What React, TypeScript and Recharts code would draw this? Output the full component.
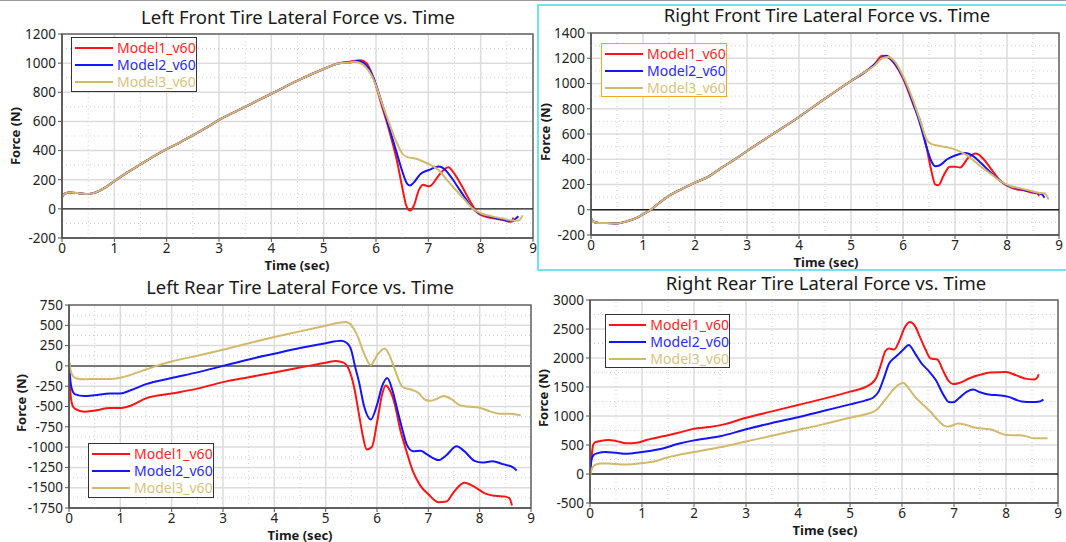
import React from "react";
import {
  LineChart,
  Line,
  XAxis,
  YAxis,
  CartesianGrid,
  ReferenceLine,
  ReferenceArea,
} from "recharts";

// ---- data (time in sec, force in N) ----
const timeTicks = [0, 1, 2, 3, 4, 5, 6, 7, 8, 9];

// Left front: all three models overlap until ~5.3 s
const lfBaseTime = [0, 0.05, 0.15, 0.3, 0.45, 0.6, 0.8, 1.0, 1.25, 1.5, 1.75, 2, 2.25, 2.5, 2.75, 3, 3.5, 4, 4.5, 5, 5.3];
const lfBaseForce = [80, 105, 112, 108, 102, 108, 140, 190, 250, 305, 360, 410, 455, 505, 555, 610, 700, 790, 880, 960, 1000];
const lfTime1 = [5.5, 5.7, 5.82, 5.95, 6.1, 6.25, 6.4, 6.5, 6.58, 6.65, 6.72, 6.82, 6.9, 7.0, 7.05, 7.2, 7.38, 7.5, 7.65, 7.8, 7.95, 8.1, 8.3, 8.45, 8.55, 8.6, 8.62];
const lfForce1 = [1010, 1020, 1000, 900, 720, 540, 330, 150, 20, -12, 20, 130, 165, 155, 160, 230, 285, 240, 150, 50, -30, -55, -68, -78, -88, -85, -60];
const lfTime2 = [5.5, 5.65, 5.8, 5.95, 6.1, 6.25, 6.4, 6.5, 6.6, 6.65, 6.72, 6.85, 7.0, 7.2, 7.3, 7.45, 7.6, 7.75, 7.9, 8.1, 8.3, 8.5, 8.62, 8.66, 8.72];
const lfForce2 = [1005, 1015, 990, 900, 740, 560, 380, 260, 170, 160, 180, 240, 265, 290, 275, 210, 130, 50, -15, -45, -65, -80, -85, -70, -50];
const lfTime3 = [5.5, 5.6, 5.75, 5.95, 6.1, 6.25, 6.4, 6.5, 6.6, 6.75, 6.9, 7.05, 7.2, 7.35, 7.5, 7.7, 7.85, 8.0, 8.2, 8.4, 8.6, 8.7, 8.75, 8.8];
const lfForce3 = [1005, 1010, 990, 890, 740, 590, 450, 380, 355, 345, 325, 300, 265, 200, 140, 60, 0, -30, -50, -65, -80, -82, -75, -45];

// Right front
const rfBaseTime = [0, 0.05, 0.15, 0.3, 0.5, 0.7, 0.9, 1.0, 1.15, 1.3, 1.5, 1.75, 2, 2.25, 2.5, 2.75, 3, 3.5, 4, 4.5, 5, 5.3];
const rfBaseForce = [-70, -95, -105, -105, -108, -90, -60, -35, 0, 50, 110, 165, 215, 260, 330, 395, 465, 600, 735, 880, 1020, 1100];
const rfTime1 = [5.45, 5.6, 5.7, 5.85, 6.0, 6.1, 6.2, 6.35, 6.45, 6.55, 6.62, 6.68, 6.78, 6.9, 7.0, 7.1, 7.25, 7.4, 7.55, 7.7, 7.85, 8.0, 8.15, 8.35, 8.5, 8.58, 8.62];
const rfForce1 = [1150, 1220, 1210, 1150, 1040, 940, 830, 680, 500, 300, 200, 195, 270, 340, 340, 335, 410, 445, 400, 320, 240, 190, 165, 150, 135, 130, 110];
const rfTime2 = [5.45, 5.55, 5.68, 5.8, 6.0, 6.2, 6.35, 6.45, 6.55, 6.62, 6.7, 6.85, 7.0, 7.2, 7.35, 7.5, 7.7, 7.9, 8.0, 8.2, 8.4, 8.6, 8.68, 8.72];
const rfForce2 = [1150, 1190, 1220, 1180, 1050, 840, 650, 500, 380, 345, 350, 400, 430, 450, 425, 370, 290, 220, 195, 170, 150, 130, 120, 95];
const rfTime3 = [5.45, 5.6, 5.72, 5.85, 6.0, 6.2, 6.35, 6.45, 6.55, 6.7, 6.9, 7.1, 7.3, 7.5, 7.7, 7.9, 8.05, 8.25, 8.45, 8.6, 8.72, 8.76, 8.8];
const rfForce3 = [1140, 1200, 1210, 1170, 1060, 860, 680, 560, 520, 505, 490, 460, 410, 340, 280, 220, 190, 170, 150, 135, 130, 115, 80];

// Left rear
const lrTime1 = [0, 0.03, 0.07, 0.12, 0.3, 0.5, 0.8, 1.0, 1.2, 1.5, 2, 2.5, 3, 3.5, 4, 4.5, 5, 5.2, 5.35, 5.45, 5.55, 5.65, 5.72, 5.8, 5.9, 6.0, 6.1, 6.17, 6.25, 6.35, 6.45, 6.55, 6.7, 6.85, 7.0, 7.2, 7.35, 7.5, 7.7, 7.9, 8.1, 8.3, 8.5, 8.58, 8.63];
const lrForce1 = [40, -350, -490, -530, -565, -550, -520, -520, -490, -400, -340, -280, -200, -140, -80, -20, 40, 60, 40, -40, -250, -600, -850, -1030, -1000, -700, -350, -240, -300, -480, -780, -1000, -1300, -1480, -1580, -1680, -1670, -1550, -1440, -1490, -1570, -1600, -1610, -1630, -1720];
const lrTime2 = [0, 0.03, 0.07, 0.12, 0.3, 0.5, 0.8, 1.0, 1.2, 1.5, 2, 2.5, 3, 3.5, 4, 4.5, 5, 5.3, 5.42, 5.5, 5.57, 5.65, 5.75, 5.88, 6.0, 6.1, 6.2, 6.3, 6.4, 6.48, 6.58, 6.7, 6.85, 6.95, 7.2, 7.35, 7.55, 7.7, 7.9, 8.05, 8.25, 8.45, 8.65, 8.72];
const lrForce2 = [50, -200, -310, -350, -370, -360, -340, -340, -300, -225, -150, -80, 0, 80, 150, 220, 280, 310, 280, 190, 0, -200, -500, -660, -480, -250, -150, -300, -550, -750, -970, -1050, -1045, -1080, -1160, -1100, -990, -1050, -1170, -1190, -1175, -1210, -1250, -1290];
const lrTime3 = [0, 0.03, 0.08, 0.15, 0.3, 0.5, 0.8, 1.0, 1.2, 1.5, 1.7, 2, 2.5, 3, 3.5, 4, 4.5, 5, 5.25, 5.4, 5.5, 5.62, 5.75, 5.88, 6.0, 6.15, 6.25, 6.35, 6.5, 6.7, 6.8, 6.95, 7.05, 7.2, 7.3, 7.45, 7.6, 7.75, 8.0, 8.2, 8.4, 8.6, 8.8];
const lrForce3 = [75, -50, -130, -155, -165, -160, -160, -145, -110, -45, 0, 55, 125, 200, 280, 355, 425, 495, 530, 540, 500, 370, 150, 10, 130, 215, 120, -50, -260, -300, -330, -420, -430, -395, -370, -410, -480, -500, -515, -560, -590, -590, -610];

// Right rear
const rrTime1 = [0, 0.03, 0.06, 0.1, 0.2, 0.35, 0.5, 0.7, 0.9, 1.1, 1.4, 1.7, 2, 2.3, 2.6, 3, 3.5, 4, 4.5, 5, 5.3, 5.4, 5.5, 5.6, 5.68, 5.75, 5.85, 5.95, 6.05, 6.15, 6.25, 6.35, 6.45, 6.55, 6.68, 6.78, 6.9, 6.98, 7.1, 7.3, 7.5, 7.7, 8.0, 8.2, 8.4, 8.55, 8.6, 8.63];
const rrForce1 = [-20, 300, 500, 550, 570, 585, 570, 530, 540, 590, 650, 710, 780, 810, 860, 970, 1080, 1190, 1300, 1420, 1500, 1550, 1650, 1900, 2120, 2165, 2145, 2300, 2520, 2620, 2550, 2350, 2150, 1990, 1975, 1800, 1600, 1550, 1570, 1650, 1710, 1750, 1760, 1700, 1640, 1630, 1660, 1720];
const rrTime2 = [0, 0.03, 0.07, 0.15, 0.3, 0.5, 0.7, 1.0, 1.4, 1.7, 2, 2.5, 3, 3.5, 4, 4.5, 5, 5.3, 5.45, 5.55, 5.65, 5.75, 5.85, 5.95, 6.05, 6.13, 6.25, 6.4, 6.5, 6.65, 6.8, 6.9, 6.98, 7.1, 7.25, 7.37, 7.5, 7.7, 7.9, 8.05, 8.3, 8.5, 8.65, 8.72];
const rrForce2 = [-30, 250, 330, 360, 380, 365, 350, 380, 440, 520, 580, 650, 770, 880, 980, 1090, 1200, 1270, 1320, 1420, 1650, 1900, 2000, 2080, 2170, 2225, 2080, 1880, 1790, 1620, 1360, 1240, 1235, 1310, 1420, 1455, 1410, 1365, 1355, 1330, 1250, 1240, 1250, 1285];
const rrTime3 = [0, 0.03, 0.08, 0.2, 0.35, 0.6, 0.8, 1.0, 1.2, 1.5, 2, 2.5, 3, 3.5, 4, 4.5, 5, 5.3, 5.5, 5.65, 5.8, 5.92, 6.02, 6.15, 6.25, 6.34, 6.53, 6.7, 6.82, 6.9, 7.08, 7.2, 7.37, 7.63, 7.75, 7.9, 8.0, 8.27, 8.35, 8.53, 8.8];
const rrForce3 = [-50, 80, 150, 180, 180, 165, 170, 190, 210, 290, 380, 460, 560, 660, 760, 860, 970, 1030, 1100, 1250, 1420, 1530, 1575, 1450, 1330, 1250, 1090, 920, 830, 820, 870, 855, 805, 775, 760, 700, 672, 667, 660, 618, 618];

const modelNames = ["Model1_v60", "Model2_v60", "Model3_v60"];
const lineColors = ["#ff1414", "#1414ff", "#d2b96c"];
const textColors = ["#ff2626", "#2a2aff", "#d9c27f"];

type Pt = { t: number; f: number };
const zip = (t: number[], f: number[]): Pt[] => t.map((x, i) => ({ t: x, f: f[i] }));

type PanelProps = {
  title: string;
  plot: { x: number; y: number; w: number; h: number };
  yDomain: [number, number];
  yStep: number;
  series: Pt[][];
  titleAt: [number, number];
  xLabelAt: [number, number];
  yLabelAt: [number, number];
  legend: { x: number; y: number; w: number; h: number; border: string };
  zeroLine?: { color: string; width: number };
};

const FONT = "'Noto Sans', 'Open Sans', sans-serif";

function range(a: number, b: number, s: number) {
  const out: number[] = [];
  for (let v = a; v <= b + 1e-9; v += s) out.push(v);
  return out;
}

function Panel(p: PanelProps) {
  const ML = 60;
  const MT = 10;
  const MR = 14;
  const XH = 30;
  const yTicks = range(p.yDomain[0], p.yDomain[1], p.yStep);
  const minorY = yTicks.slice(0, -1).map((v) => v + p.yStep / 2);
  const minorX = timeTicks.slice(0, -1).map((v) => v + 0.5);
  const zero = p.zeroLine ?? { color: "#222", width: 1.3 };
  const center: React.CSSProperties = {
    position: "absolute",
    transform: "translate(-50%, -50%)",
    whiteSpace: "nowrap",
    fontFamily: FONT,
    color: "#1a1a1a",
    lineHeight: 1,
  };
  return (
    <>
      <div style={{ ...center, left: p.titleAt[0], top: p.titleAt[1], fontSize: 18.5 }}>{p.title}</div>
      <div style={{ ...center, left: p.xLabelAt[0], top: p.xLabelAt[1], fontSize: 13, fontWeight: 700 }}>
        Time (sec)
      </div>
      <div
        style={{
          ...center,
          left: p.yLabelAt[0],
          top: p.yLabelAt[1],
          fontSize: 13,
          fontWeight: 700,
          transform: "translate(-50%, -50%) rotate(-90deg)",
        }}
      >
        Force (N)
      </div>
      <div style={{ position: "absolute", left: p.plot.x - ML, top: p.plot.y - MT }}>
        <LineChart
          width={p.plot.w + ML + MR}
          height={p.plot.h + MT + XH}
          margin={{ top: MT, right: MR, left: 0, bottom: 0 }}
        >
          <CartesianGrid stroke="#dcdcdc" strokeWidth={1.5} />
          {minorX.map((v) => (
            <ReferenceLine key={"mx" + v} x={v} stroke="#cfcfcf" strokeDasharray="1 3" />
          ))}
          {minorY.map((v) => (
            <ReferenceLine key={"my" + v} y={v} stroke="#cfcfcf" strokeDasharray="1 3" />
          ))}
          {/* x tick labels drawn as reference-line labels so the end label "9" is kept */}
          {timeTicks.map((v) => (
            <ReferenceLine
              key={"xl" + v}
              x={v}
              stroke="none"
              ifOverflow="extendDomain"
              label={{
                value: String(v),
                position: "bottom",
                offset: 5,
                fontSize: 13.5,
                fill: "#222",
                fontFamily: FONT,
              }}
            />
          ))}
          <XAxis
            dataKey="t"
            type="number"
            domain={[0, 9]}
            ticks={timeTicks}
            allowDataOverflow
            height={XH}
            tickFormatter={() => ""}
            tickSize={4}
            tickLine={{ stroke: "#555" }}
            axisLine={{ stroke: "#555", strokeWidth: 1.5 }}
            interval={0}
          />
          <YAxis
            type="number"
            domain={p.yDomain}
            ticks={yTicks}
            allowDataOverflow
            width={ML}
            tick={{ fontSize: 13.5, fill: "#222", fontFamily: FONT }}
            tickSize={4}
            tickLine={{ stroke: "#555" }}
            axisLine={{ stroke: "#555", strokeWidth: 1.5 }}
            interval={0}
          />
          <ReferenceLine y={0} stroke={zero.color} strokeWidth={zero.width} />
          {p.series.map((d, i) => (
            <Line
              key={modelNames[i]}
              data={d}
              dataKey="f"
              name={modelNames[i]}
              type="monotone"
              stroke={lineColors[i]}
              strokeWidth={2}
              dot={false}
              isAnimationActive={false}
            />
          ))}
          <ReferenceArea
            x1={0}
            x2={9}
            y1={p.yDomain[0]}
            y2={p.yDomain[1]}
            fill="none"
            stroke="#666"
            strokeWidth={1.5}
          />
        </LineChart>
      </div>
      <div
        style={{
          position: "absolute",
          left: p.legend.x,
          top: p.legend.y,
          width: p.legend.w,
          height: p.legend.h,
          boxSizing: "border-box",
          border: `1.5px solid ${p.legend.border}`,
          background: "#fff",
          fontFamily: FONT,
          fontSize: 14,
          paddingTop: 1,
        }}
      >
        {modelNames.map((n, i) => (
          <div key={n} style={{ display: "flex", alignItems: "center", height: 17, paddingLeft: 3 }}>
            <svg width={38} height={4} style={{ marginRight: 4 }}>
              <line x1={0} y1={2} x2={38} y2={2} stroke={lineColors[i]} strokeWidth={2} />
            </svg>
            <span style={{ color: textColors[i] }}>{n}</span>
          </div>
        ))}
      </div>
    </>
  );
}

export default function App() {
  const lf = [
    zip([...lfBaseTime, ...lfTime1], [...lfBaseForce, ...lfForce1]),
    zip([...lfBaseTime, ...lfTime2], [...lfBaseForce, ...lfForce2]),
    zip([...lfBaseTime, ...lfTime3], [...lfBaseForce, ...lfForce3]),
  ];
  const rf = [
    zip([...rfBaseTime, ...rfTime1], [...rfBaseForce, ...rfForce1]),
    zip([...rfBaseTime, ...rfTime2], [...rfBaseForce, ...rfForce2]),
    zip([...rfBaseTime, ...rfTime3], [...rfBaseForce, ...rfForce3]),
  ];
  const lr = [zip(lrTime1, lrForce1), zip(lrTime2, lrForce2), zip(lrTime3, lrForce3)];
  const rr = [zip(rrTime1, rrForce1), zip(rrTime2, rrForce2), zip(rrTime3, rrForce3)];

  return (
    <div
      style={{
        position: "absolute",
        left: 0,
        top: 0,
        width: 1066,
        height: 542,
        background: "#fff",
        overflow: "hidden",
      }}
    >
      <div style={{ position: "absolute", left: 0, top: 0, width: 1066, height: 1, background: "#9a9a9a" }} />
      <Panel
        title="Right Front Tire Lateral Force vs. Time"
        plot={{ x: 591, y: 33, w: 468, h: 202 }}
        yDomain={[-200, 1400]}
        yStep={200}
        series={rf}
        titleAt={[827, 15]}
        xLabelAt={[826, 262]}
        yLabelAt={[545, 132]}
        legend={{ x: 601, y: 43, w: 126, h: 54, border: "#f5a623" }}
      />
      <Panel
        title="Right Rear Tire Lateral Force vs. Time"
        plot={{ x: 590, y: 300, w: 468, h: 203 }}
        yDomain={[-500, 3000]}
        yStep={500}
        series={rr}
        titleAt={[826, 283]}
        xLabelAt={[825, 530]}
        yLabelAt={[543, 398]}
        legend={{ x: 605, y: 314, w: 125, h: 54, border: "#333" }}
      />
      <Panel
        title="Left Rear Tire Lateral Force vs. Time"
        plot={{ x: 69, y: 305, w: 462, h: 203 }}
        yDomain={[-1750, 750]}
        yStep={250}
        series={lr}
        titleAt={[300, 287]}
        xLabelAt={[300, 535]}
        yLabelAt={[21, 403]}
        legend={{ x: 88, y: 443, w: 126, h: 55, border: "#333" }}
        zeroLine={{ color: "#777", width: 2 }}
      />
      <Panel
        title="Left Front Tire Lateral Force vs. Time"
        plot={{ x: 62, y: 34, w: 471, h: 204 }}
        yDomain={[-200, 1200]}
        yStep={200}
        series={lf}
        titleAt={[298, 17]}
        xLabelAt={[297, 265]}
        yLabelAt={[15, 136]}
        legend={{ x: 71, y: 37, w: 126, h: 55, border: "#333" }}
      />
      <div
        style={{
          position: "absolute",
          left: 537,
          top: 4,
          width: 540,
          height: 267,
          boxSizing: "border-box",
          border: "2px solid #6fe4ea",
        }}
      />
    </div>
  );
}
